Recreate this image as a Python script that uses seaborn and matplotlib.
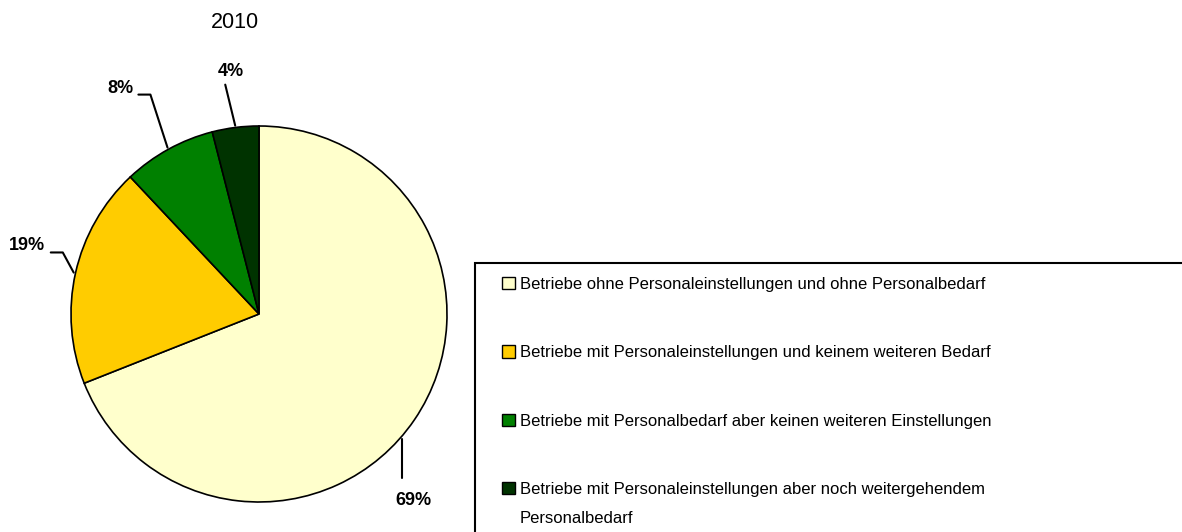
import numpy as np
import pandas as pd
import matplotlib
matplotlib.use('Agg')
import matplotlib.pyplot as plt
from matplotlib.patches import Rectangle, Patch
import seaborn as sns

sns.set_theme(style='white')
plt.rcParams['font.family'] = ['Liberation Sans', 'DejaVu Sans']
plt.rcParams['text.color'] = 'black'

# Daten
title = '2010'
categories = ['Betriebe ohne Personaleinstellungen und ohne Personalbedarf',
              'Betriebe mit Personaleinstellungen und keinem weiteren Bedarf',
              'Betriebe mit Personalbedarf aber keinen weiteren Einstellungen',
              'Betriebe mit Personaleinstellungen aber noch weitergehendem']
last_line = 'Personalbedarf'
shares = [69, 19, 8, 4]
colors = ['#FFFFCC', '#FFCC00', '#008000', '#003300']

W, H = 1182, 532
fig = plt.figure(figsize=(W / 100, H / 100), dpi=100)

# Achse so legen, dass Mittelpunkt bei (259, 314) px und Radius 188 px liegt
cx, cy, r = 259, 314, 188
ax = fig.add_axes([0, 0, 470 / W, 1])
ax.pie(shares, colors=colors, startangle=90, counterclock=False,
       wedgeprops=dict(edgecolor='black', linewidth=1.2))
ax.set_xlim((0 - cx) / r, (470 - cx) / r)
ax.set_ylim((cy - H) / r, cy / r)
ax.set_aspect('equal')
ax.axis('off')

# Winkel der Segmentmitten
ang = []
start = 90
for s in shares:
    ang.append(np.deg2rad(start - s * 3.6 / 2))
    start -= s * 3.6
ang[0] = np.deg2rad(-41)

# Führungslinien (Offsets relativ zum Randpunkt)
leaders = [
    [(0, -0.21)],                        # 69%
    [(-0.058, 0.107), (-0.122, 0.107)],  # 19%
    [(-0.091, 0.282), (-0.155, 0.282)],  # 8%
    [(-0.053, 0.218)],                   # 4%
]
text_off = [(0.06, -0.33), (-0.25, 0.144), (-0.25, 0.314), (-0.021, 0.29)]

for i, s in enumerate(shares):
    x0, y0 = np.cos(ang[i]) * 1.01, np.sin(ang[i]) * 1.01
    xs = [x0] + [x0 + dx for dx, dy in leaders[i]]
    ys = [y0] + [y0 + dy for dx, dy in leaders[i]]
    ax.plot(xs, ys, color='black', lw=1.5, clip_on=False)
    ax.text(x0 + text_off[i][0], y0 + text_off[i][1], f'{s}%',
            ha='center', va='center', fontsize=13, fontweight='bold', clip_on=False)

fig.text(235 / W, 1 - 22 / H, title, ha='center', va='center', fontsize=15.5)

# Legende
handles = [Patch(facecolor=c, edgecolor='black', linewidth=1) for c in colors]
leg = fig.legend(handles, categories, loc='upper left', bbox_to_anchor=(502 / W, 1 - 277 / H),
                 frameon=False, fontsize=12, handlelength=0.75, handleheight=0.75,
                 handletextpad=0.3, labelspacing=3.2, borderpad=0, borderaxespad=0)
fig.add_artist(Rectangle((475 / W, -0.1), 1, 1 - 263 / H + 0.1, transform=fig.transFigure,
                         fill=False, edgecolor='black', linewidth=1.5))

# zweite Zeile des letzten Eintrags
fig.canvas.draw()
bb = leg.get_texts()[-1].get_window_extent()
fig.text(bb.x0 / W, (bb.y0 - 14) / H, last_line, ha='left', va='top', fontsize=12)

fig.savefig('out.png', dpi=100)
